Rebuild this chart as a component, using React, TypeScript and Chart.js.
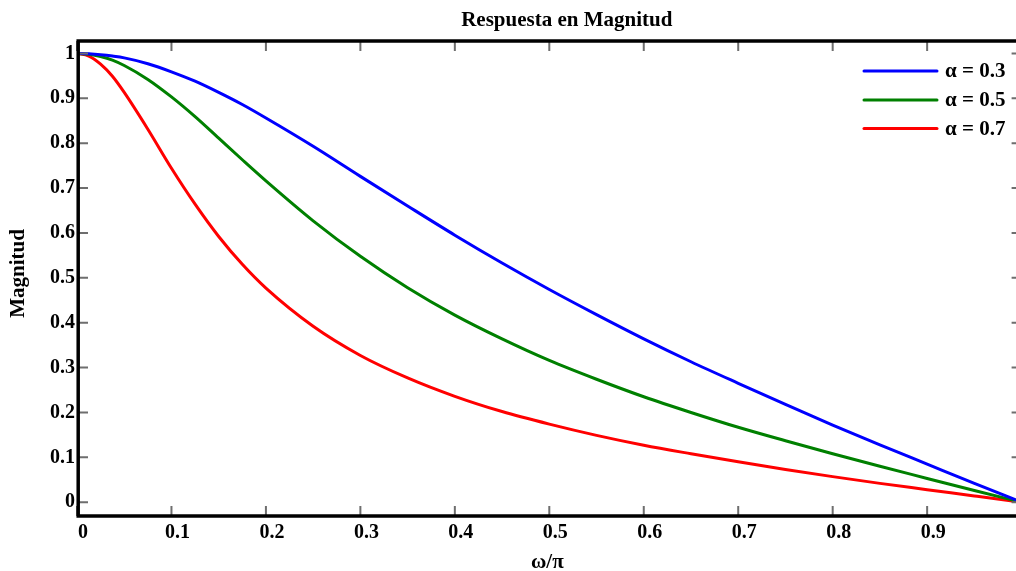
import React, { useEffect, useRef } from "react";
import { Chart, registerables } from "chart.js";

Chart.register(...registerables);

// ω/π sample positions
const omega = [0, 0.0125, 0.025, 0.0375, 0.05, 0.075, 0.1, 0.125, 0.15, 0.175, 0.2, 0.25, 0.3, 0.35, 0.4, 0.45, 0.5, 0.55, 0.6, 0.65, 0.7, 0.75, 0.8, 0.85, 0.9, 0.95, 1.0];
// magnitude readings
const alpha03 = [1, 0.999, 0.997, 0.994, 0.99, 0.977, 0.959, 0.938, 0.913, 0.886, 0.856, 0.793, 0.726, 0.66, 0.595, 0.533, 0.474, 0.418, 0.364, 0.313, 0.265, 0.218, 0.172, 0.128, 0.085, 0.042, 0.0];
const alpha05 = [1, 0.998, 0.993, 0.985, 0.973, 0.942, 0.903, 0.859, 0.811, 0.763, 0.716, 0.627, 0.548, 0.478, 0.417, 0.364, 0.316, 0.274, 0.235, 0.2, 0.167, 0.137, 0.108, 0.08, 0.053, 0.026, 0.0];
const alpha07 = [1, 0.994, 0.976, 0.949, 0.913, 0.831, 0.744, 0.664, 0.592, 0.53, 0.477, 0.392, 0.327, 0.277, 0.236, 0.202, 0.174, 0.149, 0.127, 0.108, 0.09, 0.073, 0.057, 0.042, 0.028, 0.014, 0.0];

const seriesLabels = ["α = 0.3", "α = 0.5", "α = 0.7"];
const seriesColors = ["#0000ff", "#008000", "#ff0000"];

const xTicks = [0, 0.1, 0.2, 0.3, 0.4, 0.5, 0.6, 0.7, 0.8, 0.9];
const yTicks = [0, 0.1, 0.2, 0.3, 0.4, 0.5, 0.6, 0.7, 0.8, 0.9, 1];

const titleText = "Respuesta en Magnitud";
const xTitle = "ω/π";
const yTitle = "Magnitud";

const FAMILY = "'Liberation Serif', 'Times New Roman', serif";
const CANVAS_W = 1040;
const CANVAS_H = 571;

const framePlugin = {
  id: "matlabFrame",
  afterDatasetsDraw(chart: any) {
    const { ctx, chartArea } = chart;
    const { left, right, top, bottom } = chartArea;
    const xs = chart.scales.x;
    const ys = chart.scales.y;
    ctx.save();
    // inward tick marks
    ctx.strokeStyle = "#6e6e6e";
    ctx.lineWidth = 2;
    ctx.beginPath();
    xTicks.forEach((v) => {
      const px = xs.getPixelForValue(v);
      ctx.moveTo(px, top);
      ctx.lineTo(px, top + 10);
      ctx.moveTo(px, bottom);
      ctx.lineTo(px, bottom - 10);
    });
    yTicks.forEach((v) => {
      const py = ys.getPixelForValue(v);
      ctx.moveTo(left, py);
      ctx.lineTo(left + 11, py);
      ctx.moveTo(right, py);
      ctx.lineTo(right - 10, py);
    });
    ctx.stroke();
    // box
    ctx.strokeStyle = "#000";
    ctx.lineWidth = 3.5;
    ctx.strokeRect(left + 1.2, top, right - left, bottom - top);

    // legend
    ctx.font = `bold 21px ${FAMILY}`;
    ctx.textAlign = "left";
    ctx.textBaseline = "middle";
    const rowsY = [top + 30, top + 59, top + 87.5];
    chart.data.datasets.forEach((ds: any, i: number) => {
      const y = rowsY[i];
      ctx.strokeStyle = ds.borderColor;
      ctx.lineWidth = 3;
      ctx.lineCap = "round";
      ctx.beginPath();
      ctx.moveTo(right - 157.6, y);
      ctx.lineTo(right - 84.6, y);
      ctx.stroke();
      ctx.fillStyle = "#000";
      ctx.fillText(ds.label, right - 76.6, y + 1);
    });

    // titles
    const cx = (left + right) / 2;
    ctx.fillStyle = "#000";
    ctx.textAlign = "center";
    ctx.textBaseline = "middle";
    ctx.font = `bold 21px ${FAMILY}`;
    ctx.fillText(titleText, cx + 17.5, 21);
    ctx.fillText(xTitle, cx - 2, 563);
    ctx.save();
    ctx.translate(19, (top + bottom) / 2 - 5);
    ctx.rotate(-Math.PI / 2);
    ctx.fillText(yTitle, 0, 0);
    ctx.restore();
    ctx.restore();
  },
};

export default function App() {
  const canvasRef = useRef<HTMLCanvasElement | null>(null);

  useEffect(() => {
    const canvas = canvasRef.current;
    if (!canvas) return;
    const series = [alpha03, alpha05, alpha07];
    const tickFont = { family: FAMILY, size: 20, weight: "bold" as const };
    const chart = new Chart(canvas, {
      type: "line",
      data: {
        datasets: series.map((vals, i) => ({
          label: seriesLabels[i],
          data: omega.map((x, j) => ({ x, y: vals[j] })),
          borderColor: seriesColors[i],
          backgroundColor: seriesColors[i],
          borderWidth: 3,
          pointRadius: 0,
          fill: false,
          cubicInterpolationMode: "monotone" as const,
        })),
      },
      options: {
        responsive: false,
        animation: false,
        devicePixelRatio: 1,
        layout: { padding: { top: 41, left: 0, right: CANVAS_W - 1021.6, bottom: 0 } },
        plugins: {
          legend: { display: false },
          title: { display: false },
          tooltip: { enabled: false },
        },
        scales: {
          x: {
            type: "linear",
            min: 0,
            max: 1,
            afterFit: (s: any) => {
              s.height = CANVAS_H - 516;
            },
            afterBuildTicks: (s: any) => {
              s.ticks = xTicks.map((v) => ({ value: v }));
            },
            grid: { display: false, drawTicks: false, tickLength: 0 },
            border: { display: false },
            ticks: {
              font: tickFont,
              color: "#000",
              labelOffset: 6,
              padding: 5,
              maxRotation: 0,
              autoSkip: false,
              callback: (v: any) => String(v),
            },
          },
          y: {
            type: "linear",
            min: -0.0307,
            max: 1.0276,
            afterFit: (s: any) => {
              s.width = 77;
            },
            afterBuildTicks: (s: any) => {
              s.ticks = yTicks.map((v) => ({ value: v }));
            },
            grid: { display: false, drawTicks: false, tickLength: 0 },
            border: { display: false },
            ticks: {
              font: tickFont,
              color: "#000",
              padding: 2,
              autoSkip: false,
              callback: (v: any) => String(v),
            },
          },
        },
      },
      plugins: [framePlugin],
    });
    return () => chart.destroy();
  }, []);

  return (
    <div style={{ position: "fixed", left: 0, top: 0, width: 1016, height: 571, overflow: "hidden", background: "#fff" }}>
      <canvas
        ref={canvasRef}
        width={CANVAS_W}
        height={CANVAS_H}
        style={{ position: "absolute", left: 0, top: 0, width: CANVAS_W, height: CANVAS_H }}
      />
    </div>
  );
}
